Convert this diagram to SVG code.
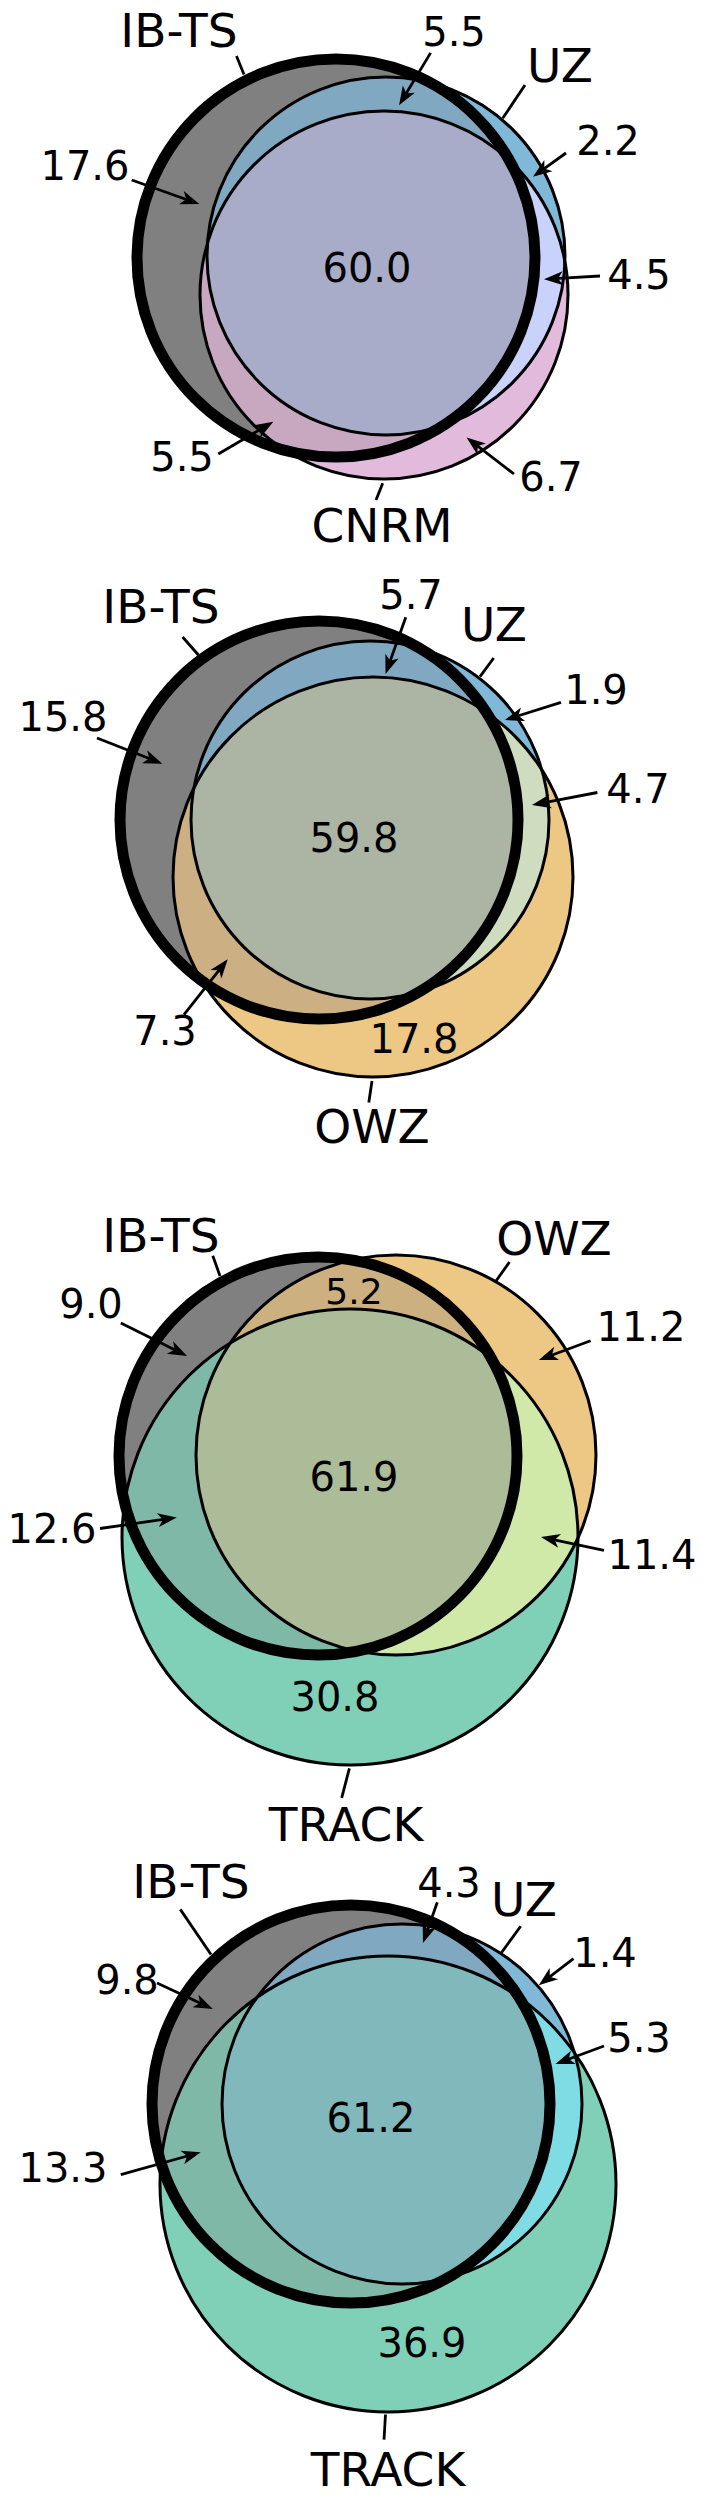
<svg xmlns="http://www.w3.org/2000/svg" xmlns:xlink="http://www.w3.org/1999/xlink" width="707" height="2500" viewBox="0 0 707 2500">
<style>
text{font-family:"DejaVu Sans","Liberation Sans",sans-serif;fill:#000;text-anchor:middle}
.lab{font-size:47px}
.num{font-size:40px}
.sm{font-size:36px}
.thin{fill:none;stroke:#000;stroke-width:3}
.thick{fill:none;stroke:#000;stroke-width:11}
.ln{fill:none;stroke:#000;stroke-width:2.8}
.ar{fill:none;stroke:#000;stroke-width:2.8;marker-end:url(#ah)}
</style>
<defs>
<marker id="ah" markerUnits="userSpaceOnUse" markerWidth="30" markerHeight="20" viewBox="-22 -10 30 20" refX="-10" refY="0" orient="auto" overflow="visible">
<path d="M0,0 L-19,-7 L-14,0 L-19,7 Z" fill="#000"/>
</marker>
<circle id="c1A" cx="336" cy="258" r="199"/>
<circle id="c1B" cx="386" cy="256" r="179"/>
<circle id="c1C" cx="384" cy="295" r="184"/>
<circle id="c2A" cx="319" cy="820" r="199"/>
<circle id="c2B" cx="370" cy="820" r="179"/>
<circle id="c2C" cx="373" cy="877" r="200"/>
<circle id="c3A" cx="318" cy="1456" r="199"/>
<circle id="c3B" cx="396" cy="1455" r="200"/>
<circle id="c3C" cx="350" cy="1537" r="228"/>
<circle id="c4A" cx="351" cy="2104" r="199"/>
<circle id="c4B" cx="402" cy="2104" r="180"/>
<circle id="c4C" cx="388" cy="2184" r="228"/>
<clipPath id="k1A"><circle cx="336" cy="258" r="199"/></clipPath>
<clipPath id="k1B"><circle cx="386" cy="256" r="179"/></clipPath>
<clipPath id="k2A"><circle cx="319" cy="820" r="199"/></clipPath>
<clipPath id="k2B"><circle cx="370" cy="820" r="179"/></clipPath>
<clipPath id="k3A"><circle cx="318" cy="1456" r="199"/></clipPath>
<clipPath id="k3B"><circle cx="396" cy="1455" r="200"/></clipPath>
<clipPath id="k4A"><circle cx="351" cy="2104" r="199"/></clipPath>
<clipPath id="k4B"><circle cx="402" cy="2104" r="180"/></clipPath>
</defs>

<!-- Panel 1: IB-TS, UZ, CNRM -->
<g id="panel1">
<g id="p1-regions">
<use href="#c1A" fill="#808080"/>
<use href="#c1B" fill="#80b8d8"/>
<use href="#c1C" fill="#e2badc"/>
<use href="#c1B" clip-path="url(#k1A)" fill="#80a8c0"/>
<use href="#c1C" clip-path="url(#k1A)" fill="#c8a8c0"/>
<use href="#c1C" clip-path="url(#k1B)" fill="#c8d2fa"/>
<g clip-path="url(#k1A)"><use href="#c1C" clip-path="url(#k1B)" fill="#a8acc8"/></g>
</g>
<g id="p1-uz"><use href="#c1B" class="thin"/><text class="lab" x="560" y="82">UZ</text></g>
<g id="p1-cnrm"><use href="#c1C" class="thin"/><text class="lab" x="382" y="542">CNRM</text></g>
<g id="p1-ibts"><use href="#c1A" class="thick"/><text class="lab" x="179" y="47">IB-TS</text></g>
<g id="p1-connectors">
<line class="ln" x1="236.5" y1="56" x2="244" y2="74.5"/>
<line class="ln" x1="525" y1="85" x2="502.7" y2="118.3"/>
<line class="ln" x1="382.7" y1="483.3" x2="376" y2="500"/>
<line class="ar" x1="131.7" y1="180" x2="189.9" y2="200.7"/>
<line class="ar" x1="430.6" y1="52.9" x2="404.2" y2="96.8"/>
<line class="ar" x1="566" y1="153" x2="541.1" y2="170.9"/>
<line class="ar" x1="600" y1="276" x2="554" y2="278.7"/>
<line class="ar" x1="218.3" y1="454" x2="264.7" y2="426.8"/>
<line class="ar" x1="514" y1="474" x2="474.5" y2="443.6"/>
</g>
<g id="p1-values">
<text class="num" x="367" y="282">60.0</text>
<text class="num" x="85" y="180">17.6</text>
<text class="num" x="454" y="46">5.5</text>
<text class="num" x="608" y="155">2.2</text>
<text class="num" x="639" y="289">4.5</text>
<text class="num" x="182" y="471">5.5</text>
<text class="num" x="551" y="491">6.7</text>
</g>
</g>

<!-- Panel 2: IB-TS, UZ, OWZ -->
<g id="panel2">
<g id="p2-regions">
<use href="#c2A" fill="#808080"/>
<use href="#c2B" fill="#80b8d8"/>
<use href="#c2C" fill="#ecc884"/>
<use href="#c2B" clip-path="url(#k2A)" fill="#80a8c0"/>
<use href="#c2C" clip-path="url(#k2A)" fill="#ccb084"/>
<use href="#c2C" clip-path="url(#k2B)" fill="#d0dcc0"/>
<g clip-path="url(#k2A)"><use href="#c2C" clip-path="url(#k2B)" fill="#acb4a4"/></g>
</g>
<g id="p2-uz"><use href="#c2B" class="thin"/><text class="lab" x="494" y="641">UZ</text></g>
<g id="p2-owz"><use href="#c2C" class="thin"/><text class="lab" x="372" y="1143">OWZ</text></g>
<g id="p2-ibts"><use href="#c2A" class="thick"/><text class="lab" x="161" y="623">IB-TS</text></g>
<g id="p2-connectors">
<line class="ln" x1="182.6" y1="637" x2="198.4" y2="655"/>
<line class="ln" x1="493.7" y1="658" x2="480" y2="676.6"/>
<line class="ln" x1="372" y1="1081" x2="368.8" y2="1102.5"/>
<line class="ar" x1="405.8" y1="617.3" x2="388.9" y2="664.5"/>
<line class="ar" x1="561" y1="702.3" x2="514.5" y2="717"/>
<line class="ar" x1="97" y1="738" x2="153" y2="760"/>
<line class="ar" x1="597.4" y1="792.5" x2="541.8" y2="803.1"/>
<line class="ar" x1="184" y1="1014.7" x2="221.5" y2="967.2"/>
</g>
<g id="p2-values">
<text class="num" x="354" y="852">59.8</text>
<text class="num" x="411" y="609">5.7</text>
<text class="num" x="596" y="704">1.9</text>
<text class="num" x="63" y="731">15.8</text>
<text class="num" x="638" y="803">4.7</text>
<text class="num" x="165" y="1045">7.3</text>
<text class="num" x="414" y="1053">17.8</text>
</g>
</g>

<!-- Panel 3: IB-TS, OWZ, TRACK -->
<g id="panel3">
<g id="p3-regions">
<use href="#c3A" fill="#808080"/>
<use href="#c3B" fill="#ecc884"/>
<use href="#c3C" fill="#80d0b8"/>
<use href="#c3B" clip-path="url(#k3A)" fill="#ccb080"/>
<use href="#c3C" clip-path="url(#k3A)" fill="#80b8a8"/>
<use href="#c3C" clip-path="url(#k3B)" fill="#d0e8a8"/>
<g clip-path="url(#k3A)"><use href="#c3C" clip-path="url(#k3B)" fill="#acbc98"/></g>
</g>
<g id="p3-owz"><use href="#c3B" class="thin"/><text class="lab" x="554" y="1255">OWZ</text></g>
<g id="p3-track"><use href="#c3C" class="thin"/><text class="lab" x="346" y="1841">TRACK</text></g>
<g id="p3-ibts"><use href="#c3A" class="thick"/><text class="lab" x="161" y="1252">IB-TS</text></g>
<g id="p3-connectors">
<line class="ln" x1="212.8" y1="1255.8" x2="220" y2="1276"/>
<line class="ln" x1="509.5" y1="1262" x2="496" y2="1281"/>
<line class="ln" x1="349.4" y1="1768.4" x2="341.7" y2="1797.8"/>
<line class="ar" x1="120.8" y1="1323" x2="178.1" y2="1351.5"/>
<line class="ar" x1="590.6" y1="1340.8" x2="548.2" y2="1356.5"/>
<line class="ar" x1="100" y1="1528.5" x2="166.8" y2="1518.9"/>
<line class="ar" x1="604" y1="1550.4" x2="550.8" y2="1539.1"/>
</g>
<g id="p3-values">
<text class="num" x="354" y="1491">61.9</text>
<text class="num" x="91" y="1318">9.0</text>
<text class="sm" x="354" y="1304">5.2</text>
<text class="num" x="641" y="1341">11.2</text>
<text class="num" x="52" y="1543">12.6</text>
<text class="num" x="652" y="1569">11.4</text>
<text class="num" x="335" y="1711">30.8</text>
</g>
</g>

<!-- Panel 4: IB-TS, UZ, TRACK -->
<g id="panel4">
<g id="p4-regions">
<use href="#c4A" fill="#808080"/>
<use href="#c4B" fill="#80b8d8"/>
<use href="#c4C" fill="#80d0b8"/>
<use href="#c4B" clip-path="url(#k4A)" fill="#80a8c0"/>
<use href="#c4C" clip-path="url(#k4A)" fill="#80b8a8"/>
<use href="#c4C" clip-path="url(#k4B)" fill="#80dce4"/>
<g clip-path="url(#k4A)"><use href="#c4C" clip-path="url(#k4B)" fill="#80b8bc"/></g>
</g>
<g id="p4-uz"><use href="#c4B" class="thin"/><text class="lab" x="524" y="1916">UZ</text></g>
<g id="p4-track"><use href="#c4C" class="thin"/><text class="lab" x="388" y="2486">TRACK</text></g>
<g id="p4-ibts"><use href="#c4A" class="thick"/><text class="lab" x="191" y="1898">IB-TS</text></g>
<g id="p4-connectors">
<line class="ln" x1="180.3" y1="1909.4" x2="211" y2="1954.5"/>
<line class="ln" x1="520.7" y1="1926.3" x2="501.4" y2="1952.8"/>
<line class="ln" x1="385.5" y1="2414.5" x2="384" y2="2439.7"/>
<line class="ar" x1="437.3" y1="1902.3" x2="426.3" y2="1933.6"/>
<line class="ar" x1="573.5" y1="1958.7" x2="546.7" y2="1979.1"/>
<line class="ar" x1="157" y1="1983" x2="203.7" y2="2004.8"/>
<line class="ar" x1="604" y1="2046" x2="564.9" y2="2060.5"/>
<line class="ar" x1="120.8" y1="2174.6" x2="191" y2="2155"/>
</g>
<g id="p4-values">
<text class="num" x="371" y="2132">61.2</text>
<text class="num" x="449" y="1897">4.3</text>
<text class="num" x="605" y="1967">1.4</text>
<text class="num" x="127" y="1994">9.8</text>
<text class="num" x="639" y="2052">5.3</text>
<text class="num" x="63" y="2182">13.3</text>
<text class="num" x="422" y="2357">36.9</text>
</g>
</g>
</svg>
